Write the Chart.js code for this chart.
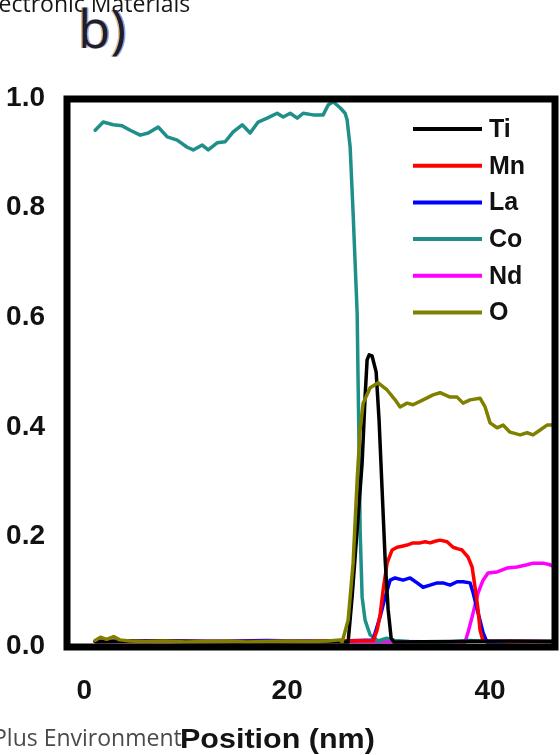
<!DOCTYPE html>
<html>
<head>
<meta charset="utf-8">
<script src="https://cdn.jsdelivr.net/npm/chart.js@4.4.1/dist/chart.umd.min.js"></script>
<style>
  html, body { margin: 0; padding: 0; background: #ffffff; }
  #wrap { position: relative; width: 560px; height: 755px; overflow: hidden; background: #ffffff; }
  #profile { position: absolute; left: 0; top: 0; }
  .txt { position: absolute; white-space: nowrap; line-height: 1; }
  #journal { left: -20px; top: -13px; font: 23px "Open Sans", sans-serif; color: #161616; }
  #footer { left: -7px; top: 721px; font: 23px "Open Sans", sans-serif; color: #4a4a4a; }
  #panel { left: 78px; top: -9px; font: 53px "Open Sans", sans-serif; color: #1d1f2e;
           text-shadow: -1.5px 0 rgba(215,130,40,0.55), 1.5px 0 rgba(40,90,215,0.55); }
  #xtitle { left: 180px; top: 724px; font: bold 27px "Liberation Sans", Arial, sans-serif; color: #141414;
            transform: scaleX(1.13); transform-origin: 0 0; }
</style>
</head>
<body>
<div id="wrap">
  <canvas id="profile" width="560" height="755"></canvas>
  <div class="txt" id="journal">Electronic Materials</div>
  <div class="txt" id="panel">b)</div>
  <div class="txt" id="footer">Plus Environment</div>
  <div class="txt" id="xtitle">Position (nm)</div>
</div>
<script>
// Composition line profile across the interface (position in nm, fraction)
const xTicks = [0, 20, 40];
const yTicks = [0, 0.2, 0.4, 0.6, 0.8, 1.0];

const tiX = [1.08, 8, 16, 24, 26.01, 26.40, 26.90, 27.39, 27.68, 27.88, 28.08, 28.37, 28.77, 29.06, 29.36, 29.66, 29.95, 30.25, 30.54, 36, 42, 46.4];
const tiY = [0.010, 0.011, 0.009, 0.010, 0.009, 0.091, 0.214, 0.336, 0.456, 0.524, 0.533, 0.531, 0.502, 0.414, 0.286, 0.159, 0.069, 0.016, 0.009, 0.010, 0.011, 0.010];

const mnX = [1.08, 10, 20, 28.5, 28.87, 29.16, 29.46, 29.85, 30.34, 30.84, 31.33, 31.82, 32.41, 33.10, 33.60, 34.09, 34.58, 35.07, 35.76, 36.35, 36.85, 37.24, 37.83, 38.23, 38.52, 38.82, 39.01, 39.31, 42, 46.4];
const mnY = [0.010, 0.010, 0.010, 0.012, 0.031, 0.058, 0.104, 0.153, 0.177, 0.182, 0.184, 0.186, 0.190, 0.190, 0.192, 0.190, 0.193, 0.195, 0.192, 0.182, 0.179, 0.177, 0.164, 0.146, 0.109, 0.068, 0.031, 0.011, 0.010, 0.010];

const laX = [1.08, 6, 12, 18, 24, 28.47, 29.16, 29.66, 30.15, 30.64, 31.43, 32.12, 32.81, 33.40, 34.09, 34.78, 35.37, 36.06, 36.75, 37.34, 38.03, 38.33, 38.82, 39.31, 39.70, 43, 46.4];
const laY = [0.010, 0.011, 0.010, 0.012, 0.010, 0.013, 0.055, 0.091, 0.122, 0.126, 0.122, 0.126, 0.117, 0.109, 0.113, 0.117, 0.117, 0.113, 0.119, 0.119, 0.117, 0.099, 0.062, 0.026, 0.009, 0.010, 0.010];

const coX = [1.08, 1.87, 2.86, 3.74, 4.53, 5.52, 6.31, 7.29, 8.18, 9.16, 10.15, 10.74, 11.63, 12.22, 13.10, 13.89, 14.68, 15.57, 16.35, 17.14, 18.03, 19.01, 19.61, 20.30, 20.99, 21.58, 22.56, 23.55, 24.04, 24.53, 25.22, 25.71, 25.91, 26.21, 26.50, 26.90, 26.99, 27.09, 27.19, 27.39, 27.68, 28.18, 28.97, 29.8, 30.6, 32, 35, 38, 41, 44, 46.4];
const coY = [0.943, 0.958, 0.953, 0.951, 0.943, 0.934, 0.938, 0.949, 0.931, 0.925, 0.912, 0.907, 0.916, 0.907, 0.920, 0.922, 0.940, 0.953, 0.938, 0.958, 0.965, 0.974, 0.967, 0.974, 0.965, 0.974, 0.971, 0.971, 0.989, 0.995, 0.984, 0.974, 0.962, 0.912, 0.792, 0.609, 0.487, 0.359, 0.214, 0.091, 0.049, 0.022, 0.011, 0.016, 0.012, 0.010, 0.008, 0.012, 0.009, 0.010, 0.010];

const ndX = [1.08, 12, 24, 30, 37.54, 37.83, 38.23, 38.82, 39.31, 39.80, 40.69, 41.67, 42.66, 43.65, 44.24, 45.22, 45.91, 46.40];
const ndY = [0.010, 0.010, 0.010, 0.010, 0.009, 0.027, 0.055, 0.099, 0.122, 0.135, 0.137, 0.144, 0.146, 0.150, 0.153, 0.153, 0.150, 0.146];

const oX = [1.08, 1.6, 2.2, 2.9, 3.5, 4.5, 6, 8, 10, 12, 14, 16, 18, 20, 22, 24, 25.2, 25.42, 26.01, 26.50, 26.90, 27.19, 27.49, 28.18, 28.97, 29.85, 30.64, 31.13, 31.82, 32.41, 33.40, 34.38, 35.07, 36.06, 36.75, 37.34, 38.03, 39.01, 39.51, 40.00, 40.69, 41.28, 41.97, 42.96, 43.65, 44.24, 44.93, 45.62, 46.11, 46.40];
const oY = [0.012, 0.018, 0.014, 0.019, 0.013, 0.011, 0.010, 0.011, 0.009, 0.010, 0.011, 0.009, 0.010, 0.011, 0.010, 0.011, 0.013, 0.009, 0.049, 0.153, 0.305, 0.396, 0.445, 0.473, 0.482, 0.469, 0.451, 0.438, 0.445, 0.442, 0.451, 0.460, 0.464, 0.456, 0.456, 0.445, 0.451, 0.454, 0.438, 0.409, 0.400, 0.405, 0.392, 0.387, 0.391, 0.387, 0.396, 0.405, 0.405, 0.409];

const pts = (xs, ys) => xs.map((x, i) => ({ x: x, y: ys[i] }));

function series(label, xs, ys, color, order) {
  return {
    label: label,
    data: pts(xs, ys),
    borderColor: color,
    backgroundColor: color,
    borderWidth: 3.5,
    pointRadius: 0,
    tension: 0,
    borderJoinStyle: 'round',
    borderCapStyle: 'round',
    fill: false,
    order: order
  };
}

const FONT = "'Liberation Sans', Arial, sans-serif";

// Thick black frame around the plotting area
const framePlugin = {
  id: 'frame',
  afterDatasetsDraw(chart) {
    const a = chart.chartArea, ctx = chart.ctx;
    ctx.save();
    ctx.strokeStyle = '#000000';
    ctx.lineWidth = 7;
    ctx.lineJoin = 'miter';
    ctx.strokeRect(a.left, a.top, a.right - a.left, a.bottom - a.top);
    ctx.restore();
  }
};

// Legend drawn inside the plot, upper right
const insideLegend = {
  id: 'insideLegend',
  afterDraw(chart) {
    const a = chart.chartArea, ctx = chart.ctx;
    const x0 = a.right - 142, x1 = a.right - 73, tx = a.right - 66;
    const y0 = a.top + 30, step = 36.7;
    ctx.save();
    ctx.font = 'bold 25px ' + FONT;
    ctx.textBaseline = 'middle';
    ctx.textAlign = 'left';
    chart.data.datasets.forEach((ds, i) => {
      const y = y0 + i * step;
      ctx.strokeStyle = ds.borderColor;
      ctx.lineWidth = 4;
      ctx.lineCap = 'butt';
      ctx.beginPath();
      ctx.moveTo(x0, y);
      ctx.lineTo(x1, y);
      ctx.stroke();
      ctx.fillStyle = '#111111';
      ctx.fillText(ds.label, tx, y + 1);
    });
    ctx.restore();
  }
};

new Chart(document.getElementById('profile'), {
  type: 'line',
  data: {
    datasets: [
      series('Ti', tiX, tiY, '#000000', 1),
      series('Mn', mnX, mnY, '#ff0000', 1),
      series('La', laX, laY, '#0000ff', 1),
      series('Co', coX, coY, '#1f8f8a', 1),
      series('Nd', ndX, ndY, '#ff00ff', 1),
      series('O', oX, oY, '#808000', 0)
    ]
  },
  options: {
    responsive: false,
    animation: false,
    events: [],
    layout: { padding: { left: 0, right: 5, top: 99, bottom: 0 } },
    plugins: { legend: { display: false }, tooltip: { enabled: false } },
    scales: {
      x: {
        type: 'linear',
        min: -1.7,
        max: 46.4,
        afterBuildTicks: (axis) => { axis.ticks = xTicks.map(v => ({ value: v })); },
        afterFit: (axis) => { axis.height = 108; },
        grid: { display: false },
        border: { display: false },
        ticks: {
          color: '#121212',
          padding: 19,
          maxRotation: 0,
          autoSkip: false,
          font: { family: FONT, size: 28, weight: 'bold', lineHeight: 1.2 },
          callback: (v) => String(v)
        }
      },
      y: {
        type: 'linear',
        min: 0,
        max: 1,
        afterBuildTicks: (axis) => { axis.ticks = yTicks.map(v => ({ value: v })); },
        afterFit: (axis) => { axis.width = 67; },
        grid: { display: false },
        border: { display: false },
        ticks: {
          color: '#121212',
          padding: 14,
          autoSkip: false,
          labelOffset: -1,
          font: { family: FONT, size: 28, weight: 'bold', lineHeight: 1.2 },
          callback: (v) => Number(v).toFixed(1)
        }
      }
    }
  },
  plugins: [framePlugin, insideLegend]
});
</script>
</body>
</html>
